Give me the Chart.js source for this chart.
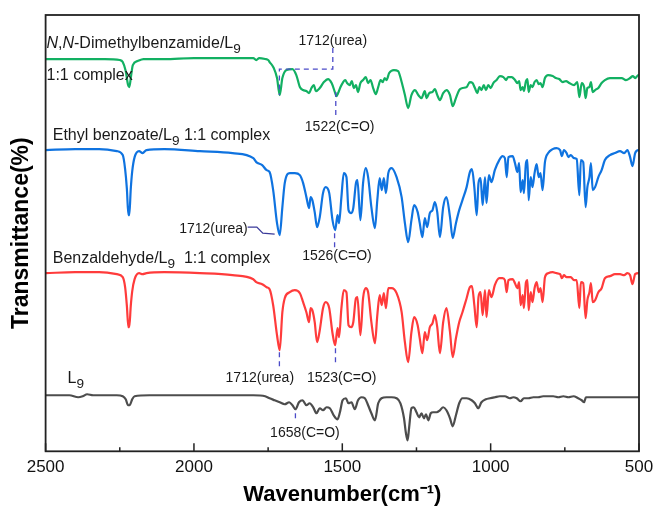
<!DOCTYPE html>
<html>
<head>
<meta charset="utf-8">
<script src="https://cdn.jsdelivr.net/npm/chart.js@4.4.0/dist/chart.umd.min.js"></script>
<style>
  html, body { margin: 0; padding: 0; background: #fff; }
</style>
</head>
<body>
<canvas id="irChart" width="656" height="506"></canvas>
<script>
// wavenumbers (cm-1) and stacked transmittance
const greenWn = [
  2500, 2400, 2300, 2250, 2240, 2230, 2222, 2218, 2212, 2206,
  2190, 2170, 2100, 2000, 1900, 1800, 1790, 1780, 1760, 1750,
  1745, 1731, 1720, 1711, 1702, 1688, 1668, 1655, 1643, 1632,
  1621, 1612, 1604, 1596, 1589, 1576, 1562, 1548, 1536, 1525,
  1520, 1514, 1506, 1497, 1490, 1484, 1475, 1468, 1461, 1454,
  1447, 1439, 1430, 1421, 1413, 1405, 1396, 1387, 1379, 1371,
  1364, 1357, 1351, 1342, 1326, 1312, 1300, 1289, 1278, 1267,
  1255, 1244, 1233, 1222, 1216, 1207, 1196, 1188, 1180, 1171,
  1160, 1149, 1137, 1128, 1117, 1106, 1095, 1081, 1070, 1061,
  1053, 1045, 1038, 1031, 1023, 1016, 1008, 1000, 991, 980,
  969, 957, 948, 941, 929, 918, 910, 904, 899, 892,
  888, 881, 876, 872, 865, 859, 852, 845, 838, 832,
  825, 817, 806, 791, 780, 769, 757, 746, 735, 719,
  708, 701, 693, 685, 680, 674, 667, 662, 656, 648,
  637, 626, 615, 598, 575, 558, 544, 530, 521, 513,
  502, 500
];
const greenT = [
  392, 392, 392, 391, 389, 380, 366, 364, 375, 386,
  390, 392, 392, 393, 393, 393, 391, 393, 392, 391,
  389, 383, 373, 356, 373, 381, 382, 376, 364, 361,
  360, 358, 363, 366, 360, 363, 369, 372, 368, 359,
  355, 358, 364, 369, 371, 368, 366, 370, 363, 366,
  359, 368, 371, 374, 368, 371, 363, 357, 364, 371,
  369, 373, 371, 378, 381, 380, 369, 356, 343, 356,
  361, 356, 353, 360, 353, 358, 359, 362, 356, 351,
  358, 361, 356, 345, 353, 361, 363, 364, 369, 368,
  363, 358, 364, 361, 366, 361, 366, 363, 368, 371,
  375, 374, 371, 374, 374, 371, 368, 370, 361, 364,
  360, 370, 372, 359, 366, 364, 369, 371, 367, 368,
  364, 373, 376, 375, 373, 372, 369, 370, 368, 366,
  369, 354, 368, 364, 353, 363, 364, 369, 359, 361,
  363, 368, 371, 373, 373, 373, 371, 373, 375, 373,
  376, 376
];

// the two ester/aldehyde complexes share one wavenumber grid
const complexWn = [
  2500, 2400, 2320, 2260, 2240, 2232, 2226, 2221, 2218, 2213,
  2208, 2200, 2185, 2173, 2160, 2100, 1980, 1870, 1800, 1790,
  1770, 1755,
  1745, 1733, 1720, 1711, 1702, 1694, 1677, 1660, 1643, 1632,
  1621, 1612, 1607, 1601, 1593, 1585, 1576, 1565, 1556, 1544,
  1533, 1524, 1516, 1511, 1503, 1495, 1486, 1479, 1470, 1463,
  1454, 1449, 1439, 1430, 1421, 1413, 1402, 1390, 1382, 1374,
  1367, 1360, 1353, 1345, 1334, 1317, 1300, 1289, 1278, 1267,
  1258, 1246, 1239, 1230, 1222, 1214, 1205, 1196, 1188, 1180,
  1171, 1160, 1149, 1137, 1128, 1117, 1106, 1095, 1081, 1070,
  1063, 1055, 1047, 1041, 1034, 1027, 1019, 1014, 1006, 997,
  986, 971, 960, 952, 946, 940, 926, 918, 910, 904,
  899, 892, 888, 881, 876, 872, 865, 859, 852, 845,
  838, 832, 825, 817, 806, 791, 778, 766, 760, 753,
  744, 738, 730, 719, 710, 701, 696, 688, 680, 674,
  667, 662, 656, 648, 637, 626, 615, 598, 581, 564,
  550, 539, 530, 522, 513, 502, 500
];
const blueT = [
  301, 302, 302, 300, 296, 282, 262, 236, 236, 262,
  280, 294, 300, 298, 301, 302, 300, 298, 293, 289,
  286, 281,
  279, 261, 228, 216, 244, 268, 278, 278, 276, 268,
  254, 243, 254, 251, 239, 224, 234, 258, 264, 258,
  231, 221, 236, 228, 254, 278, 274, 241, 238, 243,
  268, 271, 231, 268, 283, 274, 244, 223, 251, 273,
  261, 273, 258, 278, 283, 274, 254, 228, 209, 231,
  246, 239, 228, 214, 233, 224, 238, 241, 249, 239,
  214, 244, 254, 234, 213, 228, 241, 251, 264, 279,
  282, 264, 236, 268, 273, 246, 274, 248, 276, 269,
  281, 291, 295, 293, 274, 294, 295, 288, 279, 288,
  259, 271, 258, 288, 291, 251, 274, 264, 278, 287,
  274, 278, 261, 289, 298, 302, 303, 301, 295, 301,
  298, 294, 296, 293, 292, 256, 291, 289, 244, 264,
  274, 288, 261, 264, 274, 281, 291, 296, 298, 300,
  298, 301, 294, 285, 298, 301, 301
];
const redT = [
  178, 179, 179, 177, 174, 164, 145, 124, 124, 145,
  160, 172, 178, 177, 178, 179, 178, 176, 172, 169,
  167, 164,
  162, 146, 116, 101, 139, 153, 159, 161, 158, 149,
  139, 129, 143, 141, 129, 109, 121, 143, 149, 143,
  118, 106, 123, 114, 143, 161, 159, 126, 124, 129,
  153, 154, 116, 153, 163, 159, 129, 108, 136, 156,
  146, 158, 143, 163, 163, 158, 139, 109, 89, 119,
  134, 126, 113, 98, 119, 111, 124, 128, 136, 124,
  98, 129, 143, 119, 94, 113, 129, 139, 153, 164,
  165, 146, 124, 154, 159, 136, 161, 134, 161, 154,
  166, 173, 173, 171, 159, 171, 172, 168, 163, 169,
  146, 156, 143, 169, 171, 141, 159, 149, 163, 169,
  159, 163, 149, 174, 178, 179, 178, 177, 173, 176,
  174, 174, 174, 171, 171, 143, 169, 168, 133, 151,
  159, 168, 149, 151, 159, 163, 173, 175, 177, 177,
  176, 178, 176, 167, 177, 178, 178
];

const grayWn = [
  2500, 2420, 2390, 2375, 2360, 2340, 2260, 2240, 2230, 2222,
  2217, 2208, 2200, 2150, 2000, 1900, 1800, 1760, 1745, 1728,
  1711, 1694, 1679, 1668, 1658, 1646, 1634, 1621, 1610, 1598,
  1587, 1576, 1565, 1553, 1542, 1529, 1516, 1508, 1499, 1488,
  1479, 1469, 1458, 1447, 1435, 1424, 1413, 1402, 1390, 1379,
  1368, 1351, 1334, 1317, 1304, 1292, 1286, 1280, 1275, 1267,
  1259, 1250, 1241, 1233, 1225, 1218, 1210, 1202, 1194, 1182,
  1171, 1160, 1149, 1137, 1128, 1117, 1106, 1095, 1081, 1064,
  1053, 1042, 1031, 1016, 1002, 986, 969, 952, 935, 924,
  912, 899, 888, 873, 856, 840, 823, 806, 789, 772,
  755, 738, 721, 705, 693, 685, 679, 665, 643, 620,
  587, 553, 525, 502, 500
];
const grayT = [
  56, 56, 54, 55, 57, 56, 56, 55, 52, 46,
  46, 52, 55, 56, 56, 56, 56, 55, 53, 51,
  49, 47, 49, 46, 42, 49, 51, 46, 48, 44,
  38, 43, 41, 44, 43, 36, 32, 39, 51, 53,
  48, 49, 42, 51, 54, 53, 46, 38, 31, 48,
  53, 54, 54, 53, 48, 33, 19, 11, 23, 43,
  44, 39, 34, 38, 33, 37, 31, 38, 39, 39,
  41, 44, 41, 33, 25, 36, 48, 53, 53, 51,
  48, 43, 49, 52, 53, 54, 55, 55, 53, 54,
  53, 50, 53, 53, 54, 54, 55, 55, 55, 54,
  55, 54, 55, 53, 51, 49, 54, 54, 54, 54,
  54, 54, 54, 54, 54
];

// sample names: [text, style] runs, i = italic, s = subscript
const nameLabels = [
  { runs: [["N", "i"], [","], ["N", "i"], ["-Dimethylbenzamide/L"], ["9", "s"]], wn: 2497, t: 403 },
  { runs: [["1:1 complex"]], wn: 2497, t: 371 },
  { runs: [["Ethyl benzoate/L"], ["9", "s"], [" 1:1 complex"]], wn: 2476, t: 311 },
  { runs: [["Benzaldehyde/L"], ["9", "s"], ["  1:1 complex"]], wn: 2476, t: 188 },
  { runs: [["L"], ["9", "s"]], wn: 2426, t: 68 }
];

const peakLabels = [
  { text: "1712(urea)", wn: 1532, t: 406, align: "center" },
  { text: "1522(C=O)", wn: 1509, t: 320, align: "center" },
  { text: "1712(urea)", wn: 1819, t: 218, align: "right" },
  { text: "1526(C=O)", wn: 1518, t: 191, align: "center" },
  { text: "1712(urea)", wn: 1778, t: 69, align: "center" },
  { text: "1523(C=O)", wn: 1502, t: 69, align: "center" },
  { text: "1658(C=O)", wn: 1626, t: 14, align: "center" }
];

const guides = [
  { pts: [[1532, 403], [1532, 382], [1712, 382], [1712, 356]], dash: true },
  { pts: [[1522, 359], [1522, 333]], dash: true },
  { pts: [[1819, 224], [1788, 224], [1768, 218], [1728, 217]], dash: false },
  { pts: [[1526, 218], [1526, 203]], dash: true },
  { pts: [[1712, 99], [1712, 83]], dash: true },
  { pts: [[1523, 103], [1523, 85]], dash: true },
  { pts: [[1658, 38], [1658, 30]], dash: true }
];

function toPoints(wn, t) {
  return wn.map(function(w, i) { return { x: w, y: t[i] }; });
}

const FONT = "'Liberation Sans', Arial, sans-serif";

function drawRuns(ctx, runs, x, y, size) {
  runs.forEach(function(r) {
    const style = r[1] || "";
    const fs = style === "s" ? size * 0.85 : size;
    ctx.font = (style === "i" ? "italic " : "") + fs + "px " + FONT;
    ctx.fillText(r[0], x, style === "s" ? y + size * 0.3 : y);
    x += ctx.measureText(r[0]).width;
  });
}

const overlay = {
  id: "overlay",
  afterDraw: function(chart) {
    const ctx = chart.ctx;
    const xs = chart.scales.x;
    const ys = chart.scales.y;
    const area = chart.chartArea;
    ctx.save();

    // frame
    ctx.strokeStyle = "#222";
    ctx.lineWidth = 1.8;
    ctx.strokeRect(area.left, area.top, area.right - area.left, area.bottom - area.top);

    // inward ticks, major + minor
    const major = xs.ticks.map(function(t) { return t.value; });
    ctx.lineWidth = 1.5;
    major.forEach(function(v, i) {
      const px = xs.getPixelForValue(v);
      ctx.beginPath();
      ctx.moveTo(px, area.bottom);
      ctx.lineTo(px, area.bottom - 8);
      ctx.stroke();
      if (i > 0) {
        const mx = xs.getPixelForValue((v + major[i - 1]) / 2);
        ctx.beginPath();
        ctx.moveTo(mx, area.bottom);
        ctx.lineTo(mx, area.bottom - 4);
        ctx.stroke();
      }
    });

    // guide lines
    guides.forEach(function(g) {
      ctx.beginPath();
      ctx.strokeStyle = g.dash ? "#4b4bc8" : "#3a3a9a";
      ctx.lineWidth = 1.3;
      ctx.setLineDash(g.dash ? [5, 4] : []);
      g.pts.forEach(function(p, i) {
        const px = xs.getPixelForValue(p[0]);
        const py = ys.getPixelForValue(p[1]);
        if (i === 0) ctx.moveTo(px, py); else ctx.lineTo(px, py);
      });
      ctx.stroke();
    });
    ctx.setLineDash([]);

    // texts
    ctx.fillStyle = "#1a1a1a";
    ctx.textBaseline = "alphabetic";
    ctx.textAlign = "left";
    nameLabels.forEach(function(l) {
      drawRuns(ctx, l.runs, xs.getPixelForValue(l.wn), ys.getPixelForValue(l.t), 16);
    });
    ctx.font = "14px " + FONT;
    peakLabels.forEach(function(l) {
      ctx.textAlign = l.align;
      ctx.fillText(l.text, xs.getPixelForValue(l.wn), ys.getPixelForValue(l.t));
    });
    ctx.restore();
  }
};

new Chart(document.getElementById("irChart"), {
  type: "line",
  data: {
    datasets: [
      { label: "N,N-Dimethylbenzamide/L9", data: toPoints(greenWn, greenT), borderColor: "#12b062" },
      { label: "Ethyl benzoate/L9", data: toPoints(complexWn, blueT), borderColor: "#0f73e0" },
      { label: "Benzaldehyde/L9", data: toPoints(complexWn, redT), borderColor: "#ff3b3b" },
      { label: "L9", data: toPoints(grayWn, grayT), borderColor: "#4d4d4d" }
    ]
  },
  options: {
    responsive: false,
    animation: false,
    devicePixelRatio: 1,
    elements: {
      point: { radius: 0 },
      line: { borderWidth: 2.2, cubicInterpolationMode: "monotone", fill: false, borderJoinStyle: "round" }
    },
    layout: { padding: { left: 4, top: 15, right: 17, bottom: 0 } },
    plugins: {
      legend: { display: false },
      tooltip: { enabled: false }
    },
    scales: {
      x: {
        type: "linear",
        reverse: true,
        min: 500,
        max: 2500,
        grid: { display: false, drawTicks: false },
        border: { display: false },
        afterFit: function(scale) {
          // end labels may hang past the frame, the canvas has room
          scale.paddingLeft = 0;
          scale.paddingRight = 0;
        },
        ticks: {
          stepSize: 500,
          padding: 7,
          color: "#111",
          font: { family: FONT, size: 17, lineHeight: 1.1 },
          callback: function(v) { return String(v); }
        },
        title: {
          display: true,
          text: "Wavenumber(cm\u207B\u00B9)",
          color: "#000",
          font: { family: FONT, size: 22, weight: "bold", lineHeight: 1 },
          padding: { top: 0, bottom: 0 }
        }
      },
      y: {
        type: "linear",
        min: 0,
        max: 436,
        grid: { display: false, drawTicks: false },
        border: { display: false },
        ticks: { display: false },
        title: {
          display: true,
          text: "Transmittance(%)",
          color: "#000",
          font: { family: FONT, size: 23, weight: "bold" },
          padding: { top: 4, bottom: 10 }
        }
      }
    }
  },
  plugins: [overlay]
});
</script>
</body>
</html>
